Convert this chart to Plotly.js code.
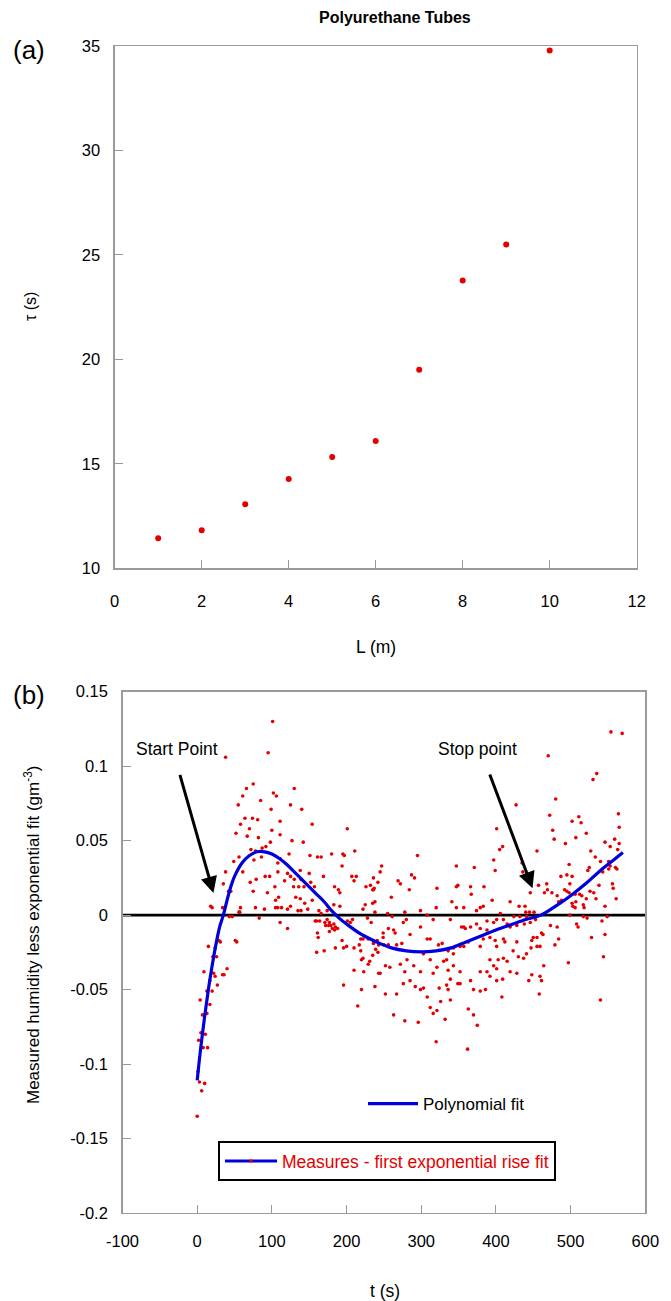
<!DOCTYPE html>
<html>
<head>
<meta charset="utf-8">
<script src="https://cdn.plot.ly/plotly-3.0.1.min.js"></script>
<style>html,body{margin:0;padding:0;background:#fff;}#chart{width:671px;height:1301px;}</style>
</head>
<body>
<div id="chart"></div>
<script>
// ---------- (a) Polyurethane tubes ----------
var lengthM = [1, 2, 3, 4, 5, 6, 7, 8, 9, 10];
var tauS = [11.44, 11.82, 13.07, 14.27, 15.33, 16.09, 19.5, 23.77, 25.5, 34.78];
var xTicksA = [0, 2, 4, 6, 8, 10, 12];
var yTicksA = [10, 15, 20, 25, 30, 35];

// ---------- (b) Measures - first exponential rise fit ----------
var measT = [101,95,38,75,66,61,102,106,130,85,55,125,99,140,64,74,81,58,111,154,52,70,100,201,67,82,111,98,127,142,72,78,87,92,180,195,197,211,123,56,161,166,151,49,76,86,108,111,194,38,61,91,97,108,121,125,130,138,150,169,139,152,207,213,210,35,71,79,117,104,129,136,143,157,184,189,191,226,235,237,42,45,75,94,109,105,132,138,154,144,125,121,105,108,113,78,90,135,139,148,163,174,166,183,191,225,235,238,228,222,201,208,205,160,164,171,174,176,172,181,184,185,188,161,162,121,83,57,43,47,18,20,34,194,200,210,217,219,222,229,241,51,29,31,15,24,
58,56,111,53,21,26,9,22,24,34,36,40,17,27,13,20,4,17,7,13,5,11,2,8,14,1,3,10,6,0,
158,177,179,183,177,160,170,185,196,196,210,223,220,222,219,220,215,229,231,235,239,242,243,238,233,
530,480,427,472,511,502,514,564,565,401,476,478,521,507,493,409,405,546,559,553,563,565,455,295,527,533,540,525,523,543,551,553,551,560,562,397,399,435,436,498,487,495,502,347,371,247,245,236,242,287,291,269,272,232,236,321,347,349,366,384,284,260,367,395,419,431,439,446,457,465,468,469,475,482,484,488,492,495,499,498,502,503,506,506,507,512,515,517,521,518,526,531,534,538,546,557,556,561,357,374,379,383,320,341,347,278,280,255,261,424,432,440,445,451,249,256,263,265,249,236,243,250,256,267,274,276,299,285,308,312,323,328,336,343,357,363,357,359,366,374,388,397,410,415,419,428,438,441,446,453,455,461,473,482,499,508,510,517,522,528,542,546,549,484,479,497,544,540,448,450,455,459,463,447,441,464,459,461,448,444,458,410,412,428,423,430,437,410,415,409,419,428,408,388,392,383,379,399,401,392,397,401,388,379,386,379,370,366,363,370,375,392,401,403,343,352,330,336,352,349,352,339,334,324,336,326,312,339,316,332,321,308,299,303,292,285,276,263,278,296,334,343,303,312,290,281,272,258,252,245,238,252,267,278,299,316,321,299,308,316,339,354,379,406,401,
554,569,470,535,320,362];
var measV = [0.130,0.109,0.106,0.088,0.085,0.080,0.082,0.080,0.085,0.077,0.074,0.074,0.071,0.071,0.065,0.065,0.064,0.061,0.063,0.061,0.055,0.058,0.057,0.058,0.053,0.052,0.054,0.049,0.050,0.049,0.044,0.043,0.045,0.046,0.041,0.041,0.040,0.043,0.041,0.039,0.039,0.039,0.040,0.036,0.037,0.039,0.035,0.038,0.033,0.029,0.029,0.026,0.026,0.029,0.028,0.026,0.024,0.030,0.028,0.026,0.024,0.022,0.026,0.026,0.023,0.021,0.022,0.024,0.023,0.019,0.019,0.019,0.019,0.019,0.019,0.017,0.015,0.019,0.017,0.018,0.016,0.016,0.016,0.015,0.012,0.010,0.012,0.011,0.010,0.008,0.006,0.004,0.005,0.005,0.005,0.005,0.004,0.003,0.003,0.004,0.003,0.003,0.001,0.007,0.006,0.007,0.008,0.009,-0.002,0.004,-0.004,-0.003,-0.005,-0.004,-0.004,-0.005,-0.003,-0.007,-0.007,-0.009,-0.010,-0.008,-0.009,-0.012,-0.015,-0.009,-0.002,0.002,-0.001,-0.001,0.006,0.005,0.005,-0.017,-0.021,-0.022,-0.020,-0.016,-0.016,-0.016,-0.017,-0.017,-0.017,-0.018,-0.021,-0.022,
0.005,0.002,-0.005,-0.018,-0.028,-0.028,-0.038,-0.039,-0.041,-0.040,-0.040,-0.036,-0.044,-0.047,-0.051,-0.051,-0.057,-0.060,-0.067,-0.066,-0.079,-0.080,-0.084,-0.089,-0.089,-0.105,-0.112,-0.113,-0.118,-0.135,
-0.004,-0.005,-0.007,-0.006,-0.011,-0.025,-0.024,-0.022,-0.022,-0.047,-0.037,-0.038,-0.030,-0.029,-0.024,-0.050,-0.061,-0.033,-0.031,-0.027,-0.023,-0.025,-0.039,0.002,-0.005,
0.091,0.078,0.074,0.067,0.066,0.063,0.062,0.068,0.059,0.058,0.057,0.051,0.055,0.052,0.048,0.046,0.044,0.049,0.051,0.046,0.044,0.048,0.043,0.040,0.043,0.039,0.036,0.032,0.030,0.029,0.036,0.033,0.031,0.032,0.031,0.037,0.030,0.035,0.029,0.034,0.026,0.027,0.026,0.033,0.032,0.033,0.029,0.025,0.022,0.027,0.025,0.023,0.021,0.020,0.017,0.018,0.019,0.020,0.019,0.019,0.017,0.012,0.014,0.010,0.009,0.006,0.006,0.015,0.020,0.015,0.021,0.017,0.015,0.013,0.009,0.010,0.017,0.016,0.021,0.015,0.008,0.006,0.014,0.005,0.009,0.014,0.013,0.007,0.011,0.005,0.016,0.015,0.011,0.020,0.006,0.018,0.021,0.011,0.005,0.003,0.005,0.006,0.005,0.009,0.005,0.002,-0.003,0.001,-0.001,-0.001,-0.001,0.002,0.002,0.002,-0.012,-0.009,-0.010,-0.012,-0.015,-0.019,-0.020,-0.020,-0.020,-0.020,-0.019,-0.005,-0.008,-0.013,-0.016,-0.016,-0.020,-0.019,-0.024,-0.022,-0.021,-0.018,-0.008,-0.009,-0.008,-0.006,-0.004,-0.005,-0.003,-0.006,-0.008,-0.007,-0.006,-0.001,-0.005,-0.003,-0.015,-0.012,-0.007,-0.008,0.000,-0.006,-0.008,-0.001,-0.002,-0.015,-0.004,-0.013,-0.001,-0.016,-0.020,-0.032,-0.028,-0.057,-0.017,-0.015,-0.021,-0.021,-0.013,-0.022,-0.026,-0.034,-0.041,-0.044,-0.040,-0.044,-0.053,-0.016,-0.018,-0.018,-0.024,-0.028,-0.029,-0.029,-0.031,-0.043,-0.038,-0.039,-0.055,-0.010,-0.015,-0.016,-0.021,-0.017,-0.021,-0.030,-0.034,-0.036,-0.038,-0.038,-0.050,-0.051,-0.050,-0.044,-0.063,-0.067,-0.074,-0.041,-0.044,-0.030,-0.026,-0.021,-0.031,-0.037,-0.038,-0.046,-0.046,-0.043,-0.047,-0.049,-0.050,-0.058,-0.062,-0.057,-0.066,-0.070,-0.064,-0.055,-0.050,-0.049,-0.048,-0.044,-0.046,-0.067,-0.071,-0.072,-0.030,-0.034,-0.026,-0.030,-0.034,-0.030,-0.033,-0.035,-0.034,-0.039,-0.048,-0.053,-0.053,-0.038,-0.038,-0.039,-0.035,0.003,0.000,-0.003,-0.003,-0.008,-0.009,0.001,-0.003,
0.123,0.122,0.107,0.095,-0.085,-0.090];

// Polynomial fit
var fitT = [0,5,10,15,20,25,30,35,40,45,50,60,70,80,90,100,110,120,130,140,150,160,170,180,190,200,220,240,260,280,300,320,340,360,380,400,420,440,460,480,500,520,540,560,570];
var fitV = [-0.111,-0.088,-0.068,-0.050,-0.034,-0.020,-0.008,0.000,0.010,0.019,0.026,0.035,0.040,0.0425,0.0425,0.041,0.038,0.034,0.029,0.024,0.019,0.014,0.009,0.003,-0.002,-0.006,-0.013,-0.018,-0.022,-0.024,-0.0247,-0.024,-0.022,-0.018,-0.014,-0.010,-0.0065,-0.003,0.000,0.006,0.013,0.021,0.030,0.038,0.042];

var xTicksB = [-100, 0, 100, 200, 300, 400, 500, 600];
var xTickTextB = ['-100', '0', '100', '200', '300', '400', '500', '600'];
var yTicksB = [-0.2, -0.15, -0.1, -0.05, 0, 0.05, 0.1, 0.15];
var yTickTextB = ['-0.2', '-0.15', '-0.1', '-0.05', '0', '0.05', '0.1', '0.15'];
var zeroLevel = 0;

var FONT = 'Liberation Sans, Arial, sans-serif';
var W = 671, H = 1301;
function px(x) { return x / W; }
function py(y) { return 1 - y / H; }

var red = 'rgb(228,0,0)';
var blue = 'rgb(0,0,220)';

var traces = [
  {x: lengthM, y: tauS, type: 'scatter', mode: 'markers', xaxis: 'x', yaxis: 'y',
   marker: {color: red, size: 6}, showlegend: false, hoverinfo: 'x+y'},
  {x: measT, y: measV, type: 'scatter', mode: 'markers', xaxis: 'x2', yaxis: 'y2',
   marker: {color: red, size: 3.6}, showlegend: false},
  {x: fitT, y: fitV, type: 'scatter', mode: 'lines', xaxis: 'x2', yaxis: 'y2',
   line: {color: blue, width: 3.2, shape: 'spline'}, name: 'Polynomial fit', legend: 'legend'},
  {x: [null], y: [null], type: 'scatter', mode: 'lines+markers', xaxis: 'x2', yaxis: 'y2',
   line: {color: blue, width: 3}, marker: {color: red, size: 3.5},
   name: 'Measures - first exponential rise fit', legend: 'legend2'}
];

var axisBase = {
  showline: true, mirror: true, linecolor: '#9a9a9a', linewidth: 1.3,
  ticks: 'inside', ticklen: 8, tickcolor: '#9a9a9a', tickwidth: 1,
  showgrid: false, zeroline: false, tickfont: {family: FONT, size: 16.5, color: '#000'},
  fixedrange: true
};
function ax(o) { var r = {}; for (var k in axisBase) r[k] = axisBase[k]; for (var k2 in o) r[k2] = o[k2]; return r; }

var layout = {
  width: W, height: H,
  margin: {l: 0, r: 0, t: 0, b: 0},
  paper_bgcolor: '#fff', plot_bgcolor: '#fff',
  font: {family: FONT, size: 17, color: '#000'},
  xaxis: ax({domain: [px(114.7), px(636.7)], range: [0, 12], tickmode: 'array', tickvals: xTicksA, anchor: 'y', ticklabelstandoff: 18}),
  yaxis: ax({domain: [py(568.3), py(46)], range: [10, 35], tickmode: 'array', tickvals: yTicksA, anchor: 'x', ticklabelstandoff: 10}),
  xaxis2: ax({domain: [px(122.5), px(645.3)], range: [-100, 600], tickmode: 'array', tickvals: xTicksB, ticktext: xTickTextB, anchor: 'y2', ticklabelstandoff: 13}),
  yaxis2: ax({domain: [py(1213), py(691.7)], range: [-0.2, 0.15], tickmode: 'array', tickvals: yTicksB, ticktext: yTickTextB, anchor: 'x2', ticklabelstandoff: 10}),
  shapes: [
    {type: 'line', xref: 'x2 domain', yref: 'y2', x0: 0, x1: 1, y0: zeroLevel, y1: zeroLevel,
     line: {color: '#000', width: 2.6}, layer: 'below'}
  ],
  legend: {x: px(363), y: py(1086), xanchor: 'left', yanchor: 'top', bgcolor: 'rgba(0,0,0,0)',
           borderwidth: 0, itemwidth: 50, font: {family: FONT, size: 17, color: '#000'}},
  legend2: {x: px(218), y: py(1141), xanchor: 'left', yanchor: 'top', bgcolor: '#fff',
            bordercolor: '#000', borderwidth: 2, itemwidth: 52, font: {family: FONT, size: 17.5, color: red}},
  annotations: [
    {text: '<b>Polyurethane Tubes</b>', xref: 'paper', yref: 'paper', x: px(395), y: py(18), showarrow: false, font: {size: 16}, xanchor: 'center', yanchor: 'middle'},
    {text: '(a)', xref: 'paper', yref: 'paper', x: px(29), y: py(50), showarrow: false, font: {size: 26}, xanchor: 'center', yanchor: 'middle'},
    {text: '(b)', xref: 'paper', yref: 'paper', x: px(29), y: py(695), showarrow: false, font: {size: 26}, xanchor: 'center', yanchor: 'middle'},
    {text: 'τ (s)', xref: 'paper', yref: 'paper', x: px(30), y: py(307), showarrow: false, textangle: -90, font: {size: 16}, xanchor: 'center', yanchor: 'middle'},
    {text: 'L (m)', xref: 'paper', yref: 'paper', x: px(376), y: py(647), showarrow: false, font: {size: 17.5}, xanchor: 'center', yanchor: 'middle'},
    {text: 't (s)', xref: 'paper', yref: 'paper', x: px(385), y: py(1291), showarrow: false, font: {size: 17.5}, xanchor: 'center', yanchor: 'middle'},
    {text: 'Measured humidity less exponential fit (gm<sup>-3</sup>)', xref: 'paper', yref: 'paper', x: px(32), y: py(935), showarrow: false, textangle: -90, font: {size: 17}, xanchor: 'center', yanchor: 'middle'},
    {text: 'Start Point', xref: 'paper', yref: 'paper', x: px(177), y: py(749), showarrow: false, font: {size: 17.5}, xanchor: 'center', yanchor: 'middle'},
    {text: 'Stop point', xref: 'paper', yref: 'paper', x: px(477), y: py(749), showarrow: false, font: {size: 17.5}, xanchor: 'center', yanchor: 'middle'},
    {text: '', xref: 'x2', yref: 'y2', x: 21.8, y: 0.0148, axref: 'x2', ayref: 'y2', ax: -23.7, ay: 0.0952,
     showarrow: true, arrowhead: 2, arrowsize: 1.1, arrowwidth: 3, arrowcolor: '#000', standoff: 0},
    {text: '', xref: 'x2', yref: 'y2', x: 449, y: 0.018, axref: 'x2', ayref: 'y2', ax: 391, ay: 0.0954,
     showarrow: true, arrowhead: 2, arrowsize: 1.1, arrowwidth: 3, arrowcolor: '#000', standoff: 0}
  ]
};

Plotly.newPlot('chart', traces, layout, {staticPlot: true, displayModeBar: false});
</script>
</body>
</html>
